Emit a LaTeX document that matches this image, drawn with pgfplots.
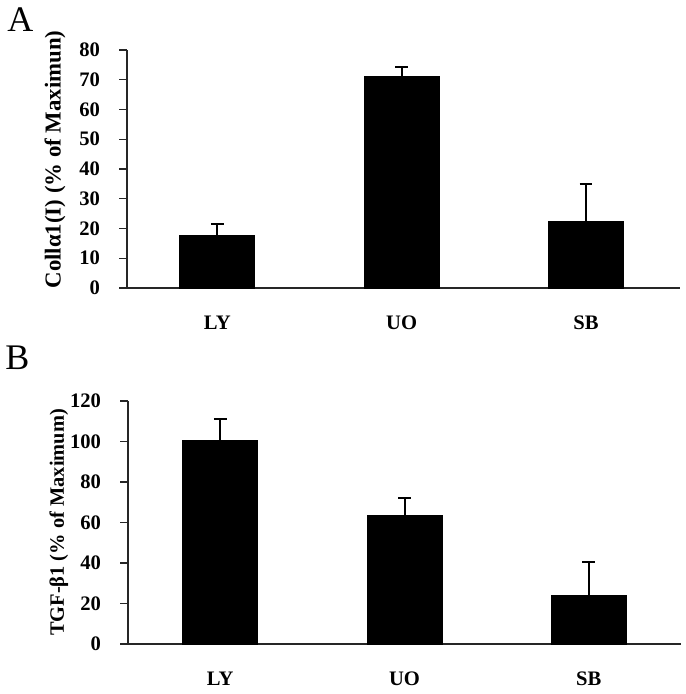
\documentclass[border=0pt]{standalone}
\usepackage{pgfplots}
\pgfplotsset{compat=1.18}
\usepackage{fontspec}
\setmainfont{Liberation Serif}

\begin{document}
\begin{tikzpicture}
\path[use as bounding box] (0pt,0pt) rectangle (342.5pt,347pt);
\pgfplotsset{
  myaxis/.style={
    scale only axis, width=276.5pt,
    axis x line*=bottom, axis y line*=left,
    axis line style={-, line width=0.6pt, black!85},
    xtick={0,1,2}, xticklabels={LY,UO,SB},
    x tick style={draw=none},
    y tick style={line width=0.6pt, black!85},
    tick align=outside, major tick length=4pt,
    ybar, bar width=37.5pt,
    ymin=0,
    tick label style={font=\fontsize{10.3}{12}\selectfont\bfseries},
    /pgf/number format/assume math mode=true,
    yticklabel style={xshift=-6pt},
    xticklabel style={yshift=-6.5pt},
    ylabel style={font=\fontsize{11.4}{13}\selectfont\bfseries, anchor=center},
    clip=false,
  },
  mybar/.style={fill=black, draw=black,
    error bars/.cd, y dir=plus, y explicit,
    error bar style={line width=1pt, black},
    error mark options={rotate=90, line width=1pt, mark size=3.2pt, black}},
}
\begin{axis}[myaxis, at={(63.5pt,203pt)}, anchor=south west,
  xmin=-0.49, xmax=2.51, ymax=80, height=119pt,
  ytick={0,10,...,80},
  ylabel={Collα1(I) (\% of Maximun)},
  ylabel style={at={(axis description cs:-0.13,0.54)}}]
\addplot[mybar] coordinates {(0,17.6) +- (0,3.9) (1,71.0) +- (0,3.4) (2,22.3) +- (0,12.7)};
\end{axis}
\begin{axis}[myaxis, at={(64pt,25pt)}, anchor=south west,
  xmin=-0.5, xmax=2.5, ymax=120, height=121.5pt,
  ytick={0,20,...,120},
  ylabel={TGF-β1 (\% of Maximum)},
  ylabel style={at={(axis description cs:-0.125,0.5)}, font=\fontsize{10.2}{12}\selectfont\bfseries}]
\addplot[mybar] coordinates {(0,100.6) +- (0,10.5) (1,63.3) +- (0,8.8) (2,23.9) +- (0,16.5)};
\end{axis}
\node[anchor=base west, inner sep=0, font=\fontsize{18}{18}\selectfont] at (3.5pt,331pt) {A};
\node[anchor=base west, inner sep=0, font=\fontsize{18}{18}\selectfont] at (2.5pt,162pt) {B};
\end{tikzpicture}
\end{document}
